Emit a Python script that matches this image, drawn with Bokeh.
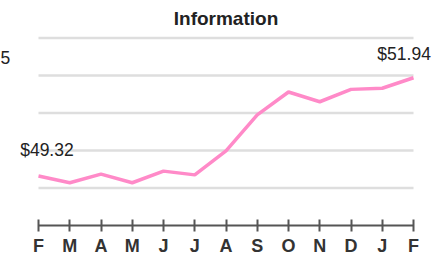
from bokeh.plotting import figure
from bokeh.models import Label, FixedTicker, Range1d
from bokeh.embed import file_html
from bokeh.resources import INLINE

months = ["F", "M", "A", "M", "J", "J", "A", "S", "O", "N", "D", "J", "F"]
prices = [49.32, 49.14, 49.37, 49.14, 49.45, 49.35, 49.99, 50.95, 51.56, 51.30, 51.63, 51.66, 51.94]
grid_values = [49, 50, 51, 52, 53]
axis_base = 48
title_text = "Information"
first_label = "$49.32"
last_label = "$51.94"
clipped_axis_label = "5"

FONT = "Liberation Sans"
n = len(months)

p = figure(frame_width=443, frame_height=225, output_backend="svg", toolbar_location=None,
           x_range=Range1d(-1.216, 12.96), y_range=Range1d(axis_base, 54.0),
           min_border_left=0, min_border_right=0, min_border_top=0, min_border_bottom=45)
p.outline_line_color = None
p.background_fill_color = "white"
p.border_fill_color = "white"
p.grid.visible = False
p.yaxis.visible = False

xs = list(range(n))
p.segment(x0=[0] * len(grid_values), x1=[n - 1] * len(grid_values),
          y0=grid_values, y1=grid_values, line_color="#dedede", line_width=2.5)
p.line(xs, prices, line_color="#ff8ac8", line_width=3.5)

ax = p.xaxis[0]
ax.bounds = (0, n - 1)
ax.ticker = FixedTicker(ticks=xs)
ax.major_label_overrides = {i: m for i, m in enumerate(months)}
ax.axis_line_color = "#555555"
ax.axis_line_width = 2
ax.major_tick_line_color = "#555555"
ax.major_tick_line_width = 2
ax.major_tick_in = 6
ax.major_tick_out = 6
ax.minor_tick_line_color = None
ax.major_label_standoff = 4
ax.major_label_text_font = FONT
ax.major_label_text_font_style = "bold"
ax.major_label_text_font_size = "18px"
ax.major_label_text_color = "#333333"

def add_label(x, y, text, size, bold=False, align="center"):
    p.add_layout(Label(x=x, y=y, text=text, text_font=FONT, text_font_size=size,
                       text_font_style="bold" if bold else "normal",
                       text_color="#222222", text_align=align, text_baseline="middle"))

add_label(6.0, 53.52, title_text, "19px", bold=True)
add_label(0.27, 50.01, first_label, "17.5px")
add_label(11.70, 52.57, last_label, "17.5px")
add_label(-1.216, 52.49, clipped_axis_label, "17.5px", align="left")

open("out.html", "w").write(file_html(p, INLINE))
